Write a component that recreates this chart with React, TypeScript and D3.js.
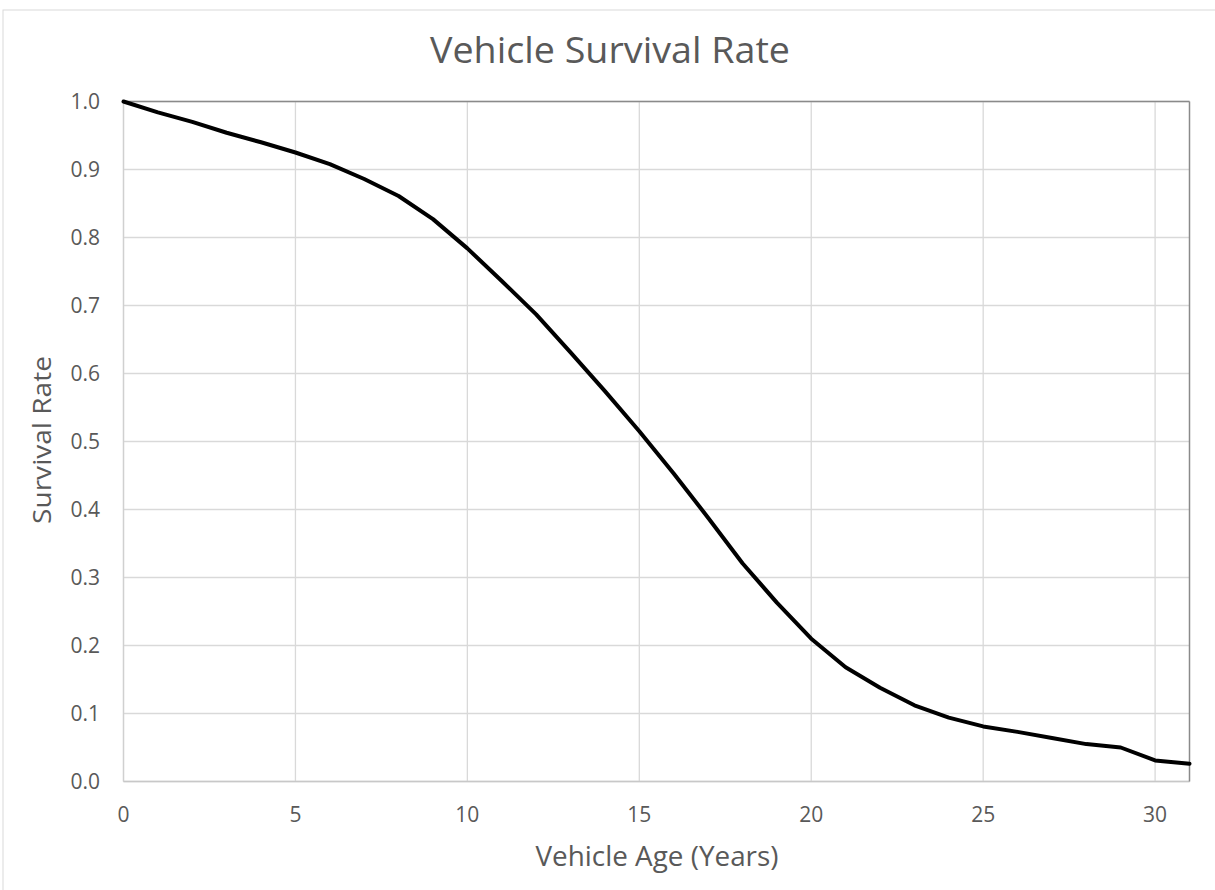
import React from "react";
import * as d3 from "d3";

const ages: number[] = [0,1,2,3,4,5,6,7,8,9,10,11,12,13,14,15,16,17,18,19,20,21,22,23,24,25,26,27,28,29,30,31];
const survival: number[] = [1.0,0.984,0.970,0.954,0.940,0.925,0.908,0.886,0.861,0.827,0.784,0.736,0.687,0.631,0.574,0.515,0.453,0.388,0.321,0.263,0.210,0.168,0.138,0.112,0.094,0.081,0.073,0.064,0.055,0.050,0.031,0.026];
const xTicks: number[] = [0,5,10,15,20,25,30];
const yTicks: number[] = [0,0.1,0.2,0.3,0.4,0.5,0.6,0.7,0.8,0.9,1.0];

const W = 1215, H = 890;
const left = 123.5, right = 1189.5, top = 101.5, bottom = 781.5;
const FONT = "'Open Sans', 'Noto Sans', sans-serif";
const TXT = "#595959";

export default function App() {
  const x = d3.scaleLinear().domain([0, 31]).range([left, right]);
  const y = d3.scaleLinear().domain([0, 1]).range([bottom, top]);
  const line = d3.line<number>().x((_, i) => x(ages[i])).y((d) => y(d));
  return (
    <svg width={W} height={H} style={{ position: "absolute", left: 0, top: 0, background: "#fff" }}>
      <rect x={3} y={10} width={W + 10} height={H + 10} fill="#fff" stroke="#d9d9d9" strokeWidth={1} />
      <text x={610} y={63} textAnchor="middle" fontFamily={FONT} fontWeight={400} fontSize={36} fill={TXT} textLength={360} lengthAdjust="spacingAndGlyphs">Vehicle Survival Rate</text>
      {yTicks.map((t) => (
        <line key={"gy" + t} x1={left} x2={right} y1={y(t)} y2={y(t)} stroke="#d9d9d9" strokeWidth={1.3} />
      ))}
      {xTicks.map((t) => (
        <line key={"gx" + t} x1={x(t)} x2={x(t)} y1={top} y2={bottom} stroke="#d9d9d9" strokeWidth={1.3} />
      ))}
      <line x1={left} x2={left} y1={top} y2={bottom} stroke="#d0d0d0" strokeWidth={1.3} />
      <line x1={left} x2={right} y1={bottom} y2={bottom} stroke="#c8c8c8" strokeWidth={1.3} />
      <line x1={left} x2={right} y1={top} y2={top} stroke="#8a8a8a" strokeWidth={1.5} />
      <line x1={right} x2={right} y1={top} y2={bottom} stroke="#8a8a8a" strokeWidth={1.5} />
      {yTicks.map((t) => (
        <text key={"ly" + t} x={100} y={y(t)} dy="0.35em" textAnchor="end" fontFamily={FONT} fontSize={21} fill={TXT}>{d3.format(".1f")(t)}</text>
      ))}
      {xTicks.map((t) => (
        <text key={"lx" + t} x={x(t)} y={815} dy="0.35em" textAnchor="middle" fontFamily={FONT} fontSize={21} fill={TXT}>{t}</text>
      ))}
      <path d={line(survival) || ""} fill="none" stroke="#000" strokeWidth={4} strokeLinejoin="round" strokeLinecap="round" />
      <text x={657} y={866} textAnchor="middle" fontFamily={FONT} fontWeight={400} fontSize={27} fill={TXT} textLength={243} lengthAdjust="spacingAndGlyphs">Vehicle Age (Years)</text>
      <text transform="translate(51,440) rotate(-90)" textAnchor="middle" fontFamily={FONT} fontWeight={400} fontSize={26} fill={TXT} textLength={168} lengthAdjust="spacingAndGlyphs">Survival Rate</text>
    </svg>
  );
}
